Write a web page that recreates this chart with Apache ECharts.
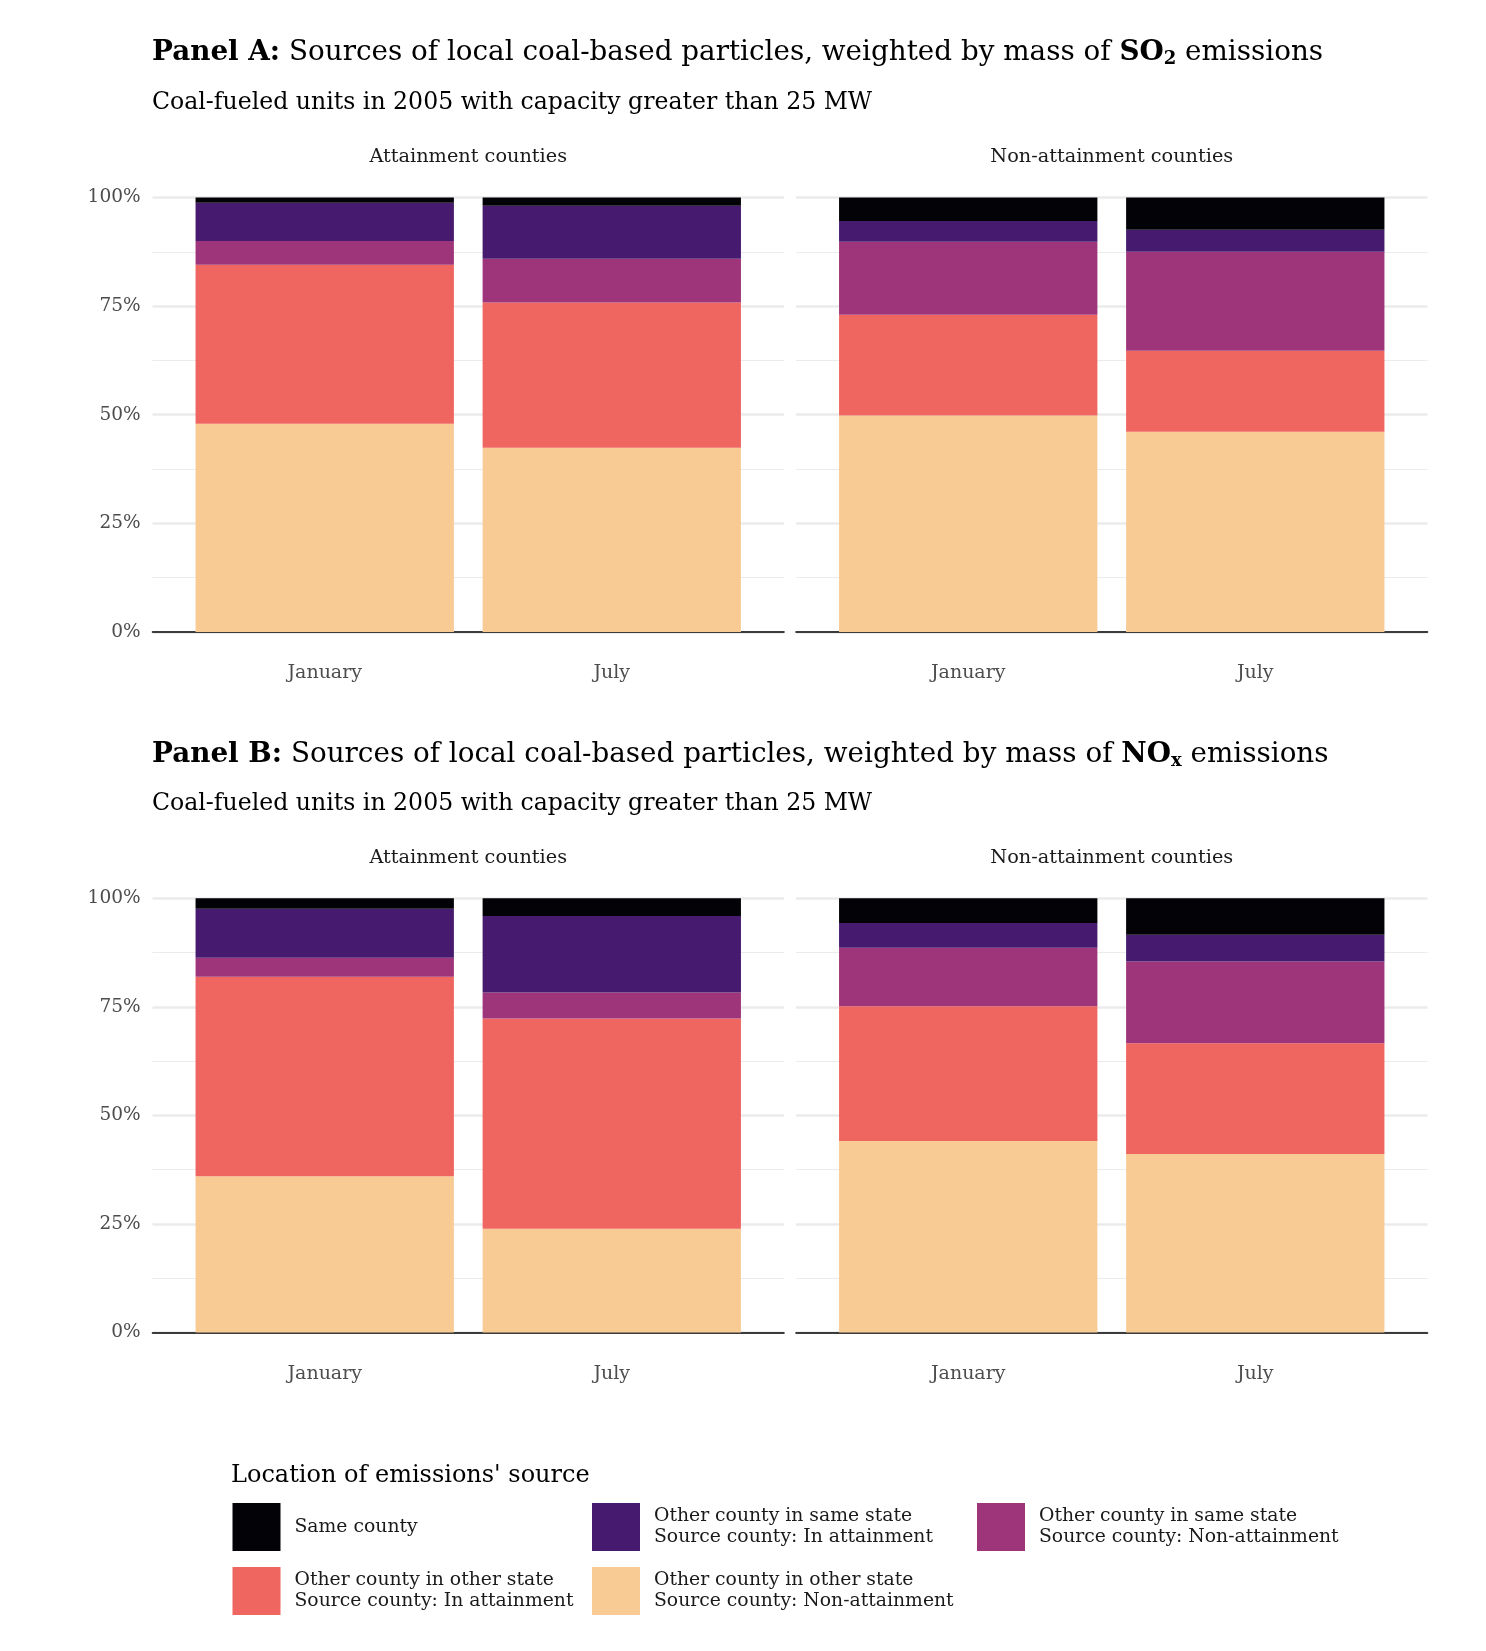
<!DOCTYPE html>
<html>
<head>
<meta charset="utf-8">
<script src="https://cdn.jsdelivr.net/npm/echarts@6/dist/echarts.min.js"></script>
<style>
html,body{margin:0;padding:0;background:#fff;}
#chart{width:1486px;height:1651px;}
</style>
</head>
<body>
<div id="chart"></div>
<script>
// ---- data (shares in %, stacked bottom -> top) ----
const months = ['January', 'July'];
const facets = ['Attainment counties', 'Non-attainment counties'];
const sources = [
  'Other county in other state\nSource county: Non-attainment',
  'Other county in other state\nSource county: In attainment',
  'Other county in same state\nSource county: Non-attainment',
  'Other county in same state\nSource county: In attainment',
  'Same county'
];
const colors = ['#f9cb94', '#ef6660', '#9e347a', '#461a6f', '#020207'];

// Panel A: SO2
const so2AttJan = [47.9, 36.6, 5.5, 8.8, 1.2];
const so2AttJul = [42.4, 33.4, 10.1, 12.2, 1.9];
const so2NonJan = [49.8, 23.2, 16.8, 4.8, 5.4];
const so2NonJul = [46.1, 18.6, 22.8, 5.1, 7.4];
// Panel B: NOx
const noxAttJan = [36.0, 45.9, 4.4, 11.3, 2.4];
const noxAttJul = [23.9, 48.4, 6.0, 17.6, 4.1];
const noxNonJan = [44.1, 31.0, 13.5, 5.7, 5.7];
const noxNonJul = [41.1, 25.5, 18.8, 6.2, 8.4];

const yTicks = [0, 25, 50, 75, 100];

const facetData = [
  [so2AttJan, so2AttJul],
  [so2NonJan, so2NonJul],
  [noxAttJan, noxAttJul],
  [noxNonJan, noxNonJul]
];

// ---- layout ----
const FONT = 'DejaVu Serif';
const gridLefts = [152.5, 796];
const gridW = 631.5;
const gridTops = [197.5, 898.2];
const gridH = 434.4;
const barW = 0.9 * gridW / 2.2;

const grids = [], xAxes = [], yAxes = [], series = [];
for (let p = 0; p < 2; p++) {
  for (let f = 0; f < 2; f++) {
    const g = p * 2 + f;
    grids.push({left: gridLefts[f], top: gridTops[p], width: gridW, height: gridH, containLabel: false});
    xAxes.push({
      type: 'value', gridIndex: g, min: 0.4, max: 2.6,
      splitLine: {show: false},
      axisTick: {show: false},
      axisLine: {show: true, onZero: false, lineStyle: {color: '#000', width: 1.6}},
      axisLabel: {
        customValues: [1, 2],
        formatter: v => months[Math.round(v) - 1],
        margin: 32, fontFamily: FONT, fontSize: 19, color: '#4d4d4d'
      }
    });
    yAxes.push({
      type: 'value', gridIndex: g, min: 0, max: 100, interval: 25,
      axisLine: {show: false}, axisTick: {show: false},
      axisLabel: {
        show: f === 0, formatter: v => v + '%', margin: 12,
        fontFamily: FONT, fontSize: 18.5, color: '#4d4d4d'
      },
      splitLine: {show: true, lineStyle: {color: '#ebebeb', width: 2.6}},
      minorTick: {show: false, splitNumber: 2},
      minorSplitLine: {show: true, lineStyle: {color: '#ebebeb', width: 1.2}}
    });
    for (let s = 0; s < sources.length; s++) {
      series.push({
        type: 'bar', name: sources[s], xAxisIndex: g, yAxisIndex: g,
        stack: 'st' + g, barWidth: barW,
        // share first so that stacking accumulates the share, position second
        dimensions: ['share', 'pos'],
        encode: {x: 'pos', y: 'share'},
        itemStyle: {color: colors[s]},
        emphasis: {disabled: true},
        data: facetData[g].map((m, i) => [m[s], i + 1])
      });
    }
  }
}

// ---- legend (one component per key, positioned like the reference) ----
const legendPos = [
  [592, 1567], [232.5, 1567], [977, 1503], [592, 1503], [232.5, 1503]
];
const legends = sources.map((name, s) => ({
  data: [name], left: legendPos[s][0], top: legendPos[s][1],
  orient: 'vertical', padding: 0, icon: 'rect', itemWidth: 48, itemHeight: 48,
  selectedMode: false,
  textStyle: {fontFamily: FONT, fontSize: 18.8, color: '#1a1a1a', lineHeight: 21, padding: [0, 0, 0, 9]}
}));

// ---- titles / strip labels as text ----
const titleRich = {
  b: {fontFamily: FONT, fontSize: 27.8, fontWeight: 'bold', color: '#000'},
  n: {fontFamily: FONT, fontSize: 27.8, color: '#000'},
  sub: {fontFamily: FONT, fontSize: 18, fontWeight: 'bold', color: '#000', padding: [13, 0, 0, 0]}
};
function txt(x, y, text, size, color, align, weight) {
  return {type: 'text', x: x, y: y, silent: true,
    style: {text: text, fontFamily: FONT, fontSize: size, fill: color, align: align || 'left', verticalAlign: 'middle', fontWeight: weight || 'normal'}};
}
const graphics = [
  {type: 'text', x: 152, y: 53, silent: true, style: {
    text: '{b|Panel A:}{n| Sources of local coal-based particles, weighted by mass of }{b|SO}{sub|2}{n| emissions}',
    rich: titleRich, verticalAlign: 'middle'}},
  txt(152, 103, 'Coal-fueled units in 2005 with capacity greater than 25 MW', 23.6, '#000'),
  {type: 'text', x: 152, y: 755, silent: true, style: {
    text: '{b|Panel B:}{n| Sources of local coal-based particles, weighted by mass of }{b|NO}{sub|x}{n| emissions}',
    rich: titleRich, verticalAlign: 'middle'}},
  txt(152, 804, 'Coal-fueled units in 2005 with capacity greater than 25 MW', 23.6, '#000'),
  txt(gridLefts[0] + gridW / 2, 157, facets[0], 19.3, '#1a1a1a', 'center'),
  txt(gridLefts[1] + gridW / 2, 157, facets[1], 19.3, '#1a1a1a', 'center'),
  txt(gridLefts[0] + gridW / 2, 858, facets[0], 19.3, '#1a1a1a', 'center'),
  txt(gridLefts[1] + gridW / 2, 858, facets[1], 19.3, '#1a1a1a', 'center'),
  txt(231, 1476, "Location of emissions' source", 24, '#000')
];

const chart = echarts.init(document.getElementById('chart'), null, {renderer: 'canvas'});
chart.setOption({
  animation: false,
  backgroundColor: '#fff',
  grid: grids, xAxis: xAxes, yAxis: yAxes, series: series,
  legend: legends,
  graphic: graphics
});
</script>
</body>
</html>
